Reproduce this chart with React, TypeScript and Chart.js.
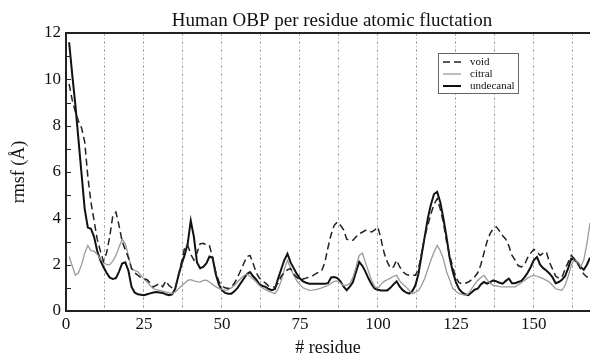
import { useEffect, useRef } from "react";
import { Chart, registerables } from "chart.js";

Chart.register(...registerables);

const chartTitle = "Human OBP per residue atomic fluctation";
const xAxisTitle = "# residue";
const yAxisTitle = "rmsf (Å)";
const seriesNames = ["void", "citral", "undecanal"];

const residues = Array.from({ length: 168 }, (_, i) => i + 1);

const voidRmsf = [
  9.8, 9.1, 8.6, 8.2, 7.9, 7.3, 5.8, 4.7, 3.9, 3.1,
  2.6, 2.15, 2.5, 3.2, 4.1, 4.27, 3.7, 3.0, 2.65, 2.3,
  1.85, 1.65, 1.55, 1.45, 1.4, 1.35, 1.2, 1.04, 1.12, 1.18,
  1.05, 1.3, 1.1, 1.0, 0.98, 1.5, 2.1, 2.7, 2.85, 2.45,
  2.2, 2.5, 2.9, 2.92, 2.85, 2.83, 2.3, 1.7, 1.28, 1.08,
  1.0, 0.97, 1.05, 1.2, 1.45, 1.75, 2.05, 2.35, 2.4, 2.05,
  1.65, 1.42, 1.3, 1.2, 1.08, 1.04, 1.04, 1.2, 1.5, 1.65,
  1.78, 1.83, 1.6, 1.45, 1.32, 1.38, 1.42, 1.47, 1.52, 1.6,
  1.68, 1.75, 2.1, 2.75, 3.3, 3.7, 3.84, 3.7, 3.5, 3.1,
  3.05, 3.05, 3.2, 3.34, 3.4, 3.48, 3.45, 3.41, 3.5, 3.63,
  3.1, 2.5, 2.12, 1.85, 1.9, 2.19, 1.9, 1.7, 1.58, 1.54,
  1.54, 1.54, 1.8, 2.5, 3.2, 3.7, 4.2, 4.6, 4.85, 4.4,
  3.8, 3.0, 2.4, 1.9, 1.45, 1.22, 1.18, 1.2, 1.25, 1.35,
  1.47, 1.65, 2.0, 2.5, 3.0, 3.35, 3.55, 3.63, 3.45, 3.25,
  3.1, 2.8, 2.4, 2.2, 1.95, 1.9, 2.0, 2.3, 2.5, 2.66,
  2.55, 2.4, 2.5, 2.55, 2.1, 1.8, 1.5, 1.42, 1.45, 1.8,
  2.1, 2.4, 2.25, 2.05, 1.8, 1.6, 1.47, 1.5,
];

const citralRmsf = [
  2.35, 1.95, 1.55, 1.65, 2.0, 2.5, 2.83, 2.6, 2.58, 2.45,
  2.25, 2.1, 2.0, 2.0, 2.15, 2.4, 2.75, 3.1, 2.9, 2.4,
  1.8, 1.75, 1.7, 1.55, 1.38, 1.25, 1.1, 0.96, 0.92, 0.89,
  0.86, 0.82, 0.78, 0.75, 0.82, 0.95, 1.08, 1.2, 1.32, 1.35,
  1.3, 1.27, 1.25, 1.32, 1.33, 1.25, 1.15, 1.05, 0.98, 0.93,
  0.89, 0.92, 1.0, 1.1, 1.25, 1.4, 1.52, 1.6, 1.5, 1.38,
  1.25, 1.1, 1.0, 0.92, 0.85, 0.8, 0.75, 0.95, 1.3, 1.8,
  2.19, 1.85, 1.55, 1.3, 1.15, 1.0, 0.95, 0.89, 0.9, 0.92,
  0.96, 1.0, 1.05, 1.1, 1.2, 1.28, 1.3, 1.2, 1.1, 1.12,
  1.18, 1.45, 1.9, 2.4, 2.5, 2.1, 1.7, 1.32, 1.05, 0.98,
  1.15, 1.28, 1.35, 1.42, 1.5, 1.54, 1.3, 1.15, 1.04, 0.9,
  0.75, 0.8, 0.88, 1.1, 1.4, 1.8, 2.2, 2.55, 2.83, 2.6,
  2.25, 1.7, 1.35, 0.98, 0.85, 0.75, 0.72, 0.68, 0.75, 0.95,
  1.15, 1.32, 1.45, 1.54, 1.35, 1.2, 1.1, 1.08, 1.05, 1.04,
  1.04, 1.04, 1.04, 1.04, 1.12, 1.22, 1.32, 1.42, 1.5, 1.54,
  1.5, 1.45, 1.4, 1.32, 1.25, 1.1, 0.96, 0.92, 0.89, 1.1,
  1.5, 1.97, 2.26, 2.1, 1.9, 2.2, 2.9, 3.8,
];

const undecanalRmsf = [
  11.6, 10.2, 8.9, 7.4, 5.9, 4.4, 3.6, 3.55, 3.2, 2.6,
  2.2, 1.9, 1.65, 1.45, 1.38, 1.42, 1.7, 2.05, 2.1, 1.75,
  1.05, 0.8, 0.72, 0.7, 0.68, 0.72, 0.76, 0.8, 0.82, 0.8,
  0.78, 0.72, 0.68, 0.72, 0.95, 1.5, 2.0, 2.4, 2.9, 3.9,
  3.2, 2.1, 1.85, 1.9, 2.05, 2.35, 2.3, 1.6, 1.15, 0.9,
  0.78, 0.75, 0.75, 0.85, 1.0, 1.2, 1.4, 1.6, 1.68, 1.5,
  1.35, 1.15, 1.08, 1.04, 0.95, 0.9, 0.95, 1.4, 1.8, 2.2,
  2.47, 2.1, 1.85, 1.6, 1.4, 1.28, 1.22, 1.18, 1.18, 1.18,
  1.18, 1.18, 1.18, 1.2, 1.45, 1.47, 1.42, 1.28, 1.05, 0.9,
  1.05, 1.25, 1.7, 2.12, 1.95, 1.7, 1.4, 1.15, 0.96, 0.92,
  0.89, 0.89, 0.89, 1.0, 1.15, 1.28, 1.05, 0.9, 0.8, 0.75,
  0.85, 1.1, 1.6, 2.4, 3.2, 4.0, 4.6, 5.05, 5.14, 4.7,
  4.0, 3.2, 2.3, 1.7, 1.25, 0.95, 0.8, 0.72, 0.68, 0.8,
  0.92, 0.96, 1.15, 1.25, 1.18, 1.25, 1.32, 1.28, 1.22, 1.18,
  1.3, 1.4, 1.2, 1.2, 1.25, 1.3, 1.45, 1.65, 1.9, 2.2,
  2.33, 2.0, 1.85, 1.75, 1.62, 1.45, 1.2, 1.25, 1.35, 1.5,
  1.85, 2.26, 2.2, 2.1, 1.9, 1.78, 2.0, 2.3,
];

const xGridValues = [0, 12.5, 25, 37.5, 50, 62.5, 75, 87.5, 100, 112.5, 125, 137.5, 150, 162.5];
const xLabelValues = [0, 25, 50, 75, 100, 125, 150];
const yTickValues = [0, 2, 4, 6, 8, 10, 12];
const yMinorTickValues = [1, 2, 3, 4, 5, 6, 7, 8, 9, 10, 11];

const SERIF = '"Liberation Serif", "Times New Roman", serif';

const decorPlugin = {
  id: "decor",
  afterDraw(chart: any) {
    const { ctx, chartArea, scales } = chart;
    const { left, top, right, bottom } = chartArea;
    const y = scales.y;
    ctx.save();
    ctx.strokeStyle = "#222";
    ctx.lineWidth = 1;
    ctx.setLineDash([]);
    for (const v of yMinorTickValues) {
      const py = Math.round(y.getPixelForValue(v)) + 0.5;
      ctx.beginPath();
      ctx.moveTo(left, py);
      ctx.lineTo(left + 5, py);
      ctx.stroke();
    }
    ctx.lineWidth = 2;
    ctx.beginPath();
    ctx.moveTo(left, bottom);
    ctx.lineTo(left, top);
    ctx.lineTo(right, top);
    ctx.stroke();
    ctx.beginPath();
    ctx.moveTo(left - 1, bottom);
    ctx.lineTo(right, bottom);
    ctx.stroke();
    ctx.fillStyle = "#111";
    ctx.font = `19px ${SERIF}`;
    ctx.textAlign = "center";
    ctx.textBaseline = "alphabetic";
    ctx.fillText(chartTitle, (left + right) / 2 + 4, 26);
    const bx = 438.5, by = 53.5, bw = 80, bh = 40;
    ctx.fillStyle = "#fff";
    ctx.fillRect(bx, by, bw, bh);
    ctx.strokeStyle = "#666";
    ctx.lineWidth = 1;
    ctx.strokeRect(bx, by, bw, bh);
    ctx.font = `11px ${SERIF}`;
    ctx.textAlign = "left";
    ctx.textBaseline = "middle";
    chart.data.datasets.forEach((ds: any, i: number) => {
      const ly = 62 + i * 12;
      ctx.strokeStyle = ds.borderColor;
      ctx.lineWidth = ds.borderWidth;
      ctx.setLineDash(ds.borderDash || []);
      ctx.beginPath();
      ctx.moveTo(443, ly);
      ctx.lineTo(461, ly);
      ctx.stroke();
      ctx.setLineDash([]);
      ctx.fillStyle = "#111";
      ctx.fillText(ds.label, 470, ly);
    });
    ctx.restore();
  },
};

export default function App() {
  const canvasRef = useRef<HTMLCanvasElement | null>(null);

  useEffect(() => {
    document.body.style.margin = "0";
    const canvas = canvasRef.current;
    if (!canvas) return;
    const toPoints = (vals: number[]) => residues.map((r, i) => ({ x: r, y: vals[i] }));
    const chart = new Chart(canvas, {
      type: "line",
      data: {
        datasets: [
          {
            label: seriesNames[0],
            data: toPoints(voidRmsf),
            borderColor: "#222",
            borderWidth: 1.5,
            borderDash: [7, 4],
            pointRadius: 0,
            tension: 0,
            fill: false,
          },
          {
            label: seriesNames[1],
            data: toPoints(citralRmsf),
            borderColor: "#9a9a9a",
            borderWidth: 1.3,
            pointRadius: 0,
            tension: 0,
            fill: false,
          },
          {
            label: seriesNames[2],
            data: toPoints(undecanalRmsf),
            borderColor: "#111",
            borderWidth: 2,
            pointRadius: 0,
            tension: 0,
            fill: false,
          },
        ],
      },
      options: {
        responsive: false,
        animation: false,
        layout: { padding: { top: 33, left: 0, right: 0, bottom: 0 } },
        plugins: {
          legend: { display: false },
          title: { display: false },
          tooltip: { enabled: false },
        },
        scales: {
          x: {
            type: "linear",
            min: 0,
            max: 168,
            afterBuildTicks: (s: any) => {
              s.ticks = xGridValues.map((v) => ({ value: v }));
            },
            afterFit: (s: any) => {
              s.height = 48;
            },
            ticks: {
              autoSkip: false,
              maxRotation: 0,
              padding: 3,
              color: "#111",
              font: { family: SERIF, size: 17 },
              callback: (v: any) => (xLabelValues.includes(Number(v)) ? String(v) : ""),
            },
            grid: {
              color: "#aaa",
              lineWidth: 1,
              drawTicks: false,
              tickLength: 0,
            },
            border: { display: false, dash: [3, 2, 1, 2] },
            title: {
              display: true,
              text: xAxisTitle,
              color: "#111",
              font: { family: SERIF, size: 18 },
              padding: { top: 0, bottom: 0 },
            },
          },
          y: {
            type: "linear",
            min: 0,
            max: 12,
            afterBuildTicks: (s: any) => {
              s.ticks = yTickValues.map((v) => ({ value: v }));
            },
            afterFit: (s: any) => {
              s.width = 66;
            },
            ticks: {
              padding: 5,
              color: "#111",
              font: { family: SERIF, size: 17 },
            },
            grid: { display: false, drawTicks: false },
            border: { display: false },
            title: {
              display: true,
              text: yAxisTitle,
              color: "#111",
              font: { family: SERIF, size: 18 },
              padding: { top: 8, bottom: 0 },
            },
          },
        },
      },
      plugins: [decorPlugin],
    });
    return () => chart.destroy();
  }, []);

  return (
    <div style={{ width: 590, height: 359 }}>
      <canvas ref={canvasRef} width={590} height={359} />
    </div>
  );
}
